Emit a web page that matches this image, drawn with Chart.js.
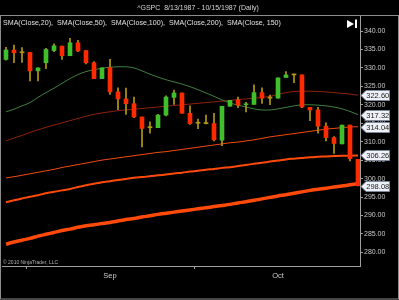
<!DOCTYPE html>
<html>
<head>
<meta charset="utf-8">
<script src="https://cdn.jsdelivr.net/npm/chart.js@4.4.1/dist/chart.umd.min.js"></script>
<style>
html,body{margin:0;padding:0;background:#000;}
canvas{display:block;}
</style>
</head>
<body>
<canvas id="c" width="399" height="300"></canvas>
<script>
const dates = ['8/13','8/14','8/17','8/18','8/19','8/20','8/21','8/24','8/25','8/26','8/27','8/28','8/31',
 '9/1','9/2','9/3','9/4','9/8','9/9','9/10','9/11','9/14','9/15','9/16','9/17','9/18','9/21','9/22','9/23','9/24','9/25','9/28','9/29','9/30',
 '10/1','10/2','10/5','10/6','10/7','10/8','10/9','10/12','10/13','10/14','10/15'];

const openV  = [332.3,334.85,334.1,334.2,329.2,331.4,334.7,335.9,333.3,336.8,334.7,331.4,327.1,330.1,323.5,321.6,320.3,316.7,313.8,313.8,317.2,322.0,323.2,317.7,315.0,314.9,314.9,310.4,319.6,321.3,320.0,320.1,323.3,321.8,321.8,327.4,328.1,328.1,319.3,318.6,314.2,311.1,309.4,314.5,305.2];
const highV  = [335.6,336.2,335.5,334.2,330.0,335.3,336.5,335.9,338.0,337.5,334.7,331.7,330.0,332.3,324.6,324.5,322.1,316.7,315.4,317.4,322.4,324.0,323.2,319.7,316.1,317.2,317.7,319.6,321.2,322.1,320.7,325.4,324.6,322.6,327.3,329.0,328.3,328.1,319.3,319.3,315.1,311.4,314.5,314.5,305.2];
const lowV   = [332.1,331.4,331.5,326.5,326.5,329.8,334.4,332.3,333.3,334.4,331.1,327.1,327.1,322.8,318.7,317.4,316.5,308.6,312.3,313.8,317.0,320.1,317.7,314.7,313.5,314.8,310.2,308.9,319.6,319.2,318.1,320.1,320.4,320.0,321.8,327.4,326.0,319.2,315.7,312.3,310.2,306.8,309.4,304.8,298.0];
const closeV = [334.85,334.1,334.1,329.2,330.0,335.0,336.0,333.3,336.8,334.6,331.4,327.1,330.0,323.5,321.6,320.3,316.7,313.6,313.8,317.2,322.1,323.2,317.7,314.9,315.0,314.9,310.5,319.6,321.2,319.9,320.2,323.3,321.8,321.8,327.3,328.1,328.1,319.4,318.6,314.2,311.1,309.5,314.5,305.4,298.08];

const sma20  = [318.1,318.8,319.7,320.6,322.0,323.3,324.5,325.8,327.1,328.2,329.0,329.5,329.9,330.2,330.3,330.3,330.0,329.2,328.3,327.5,326.8,326.2,325.6,324.9,324.1,323.2,322.3,321.3,320.5,319.9,319.4,318.9,318.6,318.6,318.9,319.3,319.7,320.0,320.0,319.9,319.7,319.4,318.9,318.2,317.32];
const sma50  = [310.2,311.0,311.7,312.5,313.2,313.9,314.5,315.1,315.7,316.3,316.9,317.4,317.8,318.1,318.4,318.6,318.8,319.0,319.2,319.4,319.6,319.8,320.0,320.2,320.4,320.6,320.8,321.0,321.2,321.4,321.6,321.8,322.0,322.3,322.8,323.3,323.6,323.7,323.7,323.6,323.5,323.3,323.1,322.9,322.60];
const sma100 = [300.2,300.5,300.9,301.3,301.7,302.1,302.5,303.0,303.4,303.8,304.2,304.6,305.0,305.3,305.6,305.9,306.2,306.5,306.8,307.1,307.3,307.6,307.9,308.2,308.5,308.8,309.1,309.4,309.7,309.9,310.2,310.5,310.9,311.3,311.6,311.9,312.2,312.5,312.8,313.1,313.4,313.6,313.8,314.0,314.04];
const sma150 = [293.6,294.1,294.6,295.1,295.5,296.0,296.4,296.8,297.2,297.7,298.2,298.6,299.0,299.3,299.6,299.9,300.2,300.4,300.6,300.9,301.1,301.4,301.6,301.9,302.1,302.4,302.6,302.9,303.1,303.4,303.7,304.0,304.3,304.6,304.9,305.2,305.4,305.6,305.8,305.9,306.0,306.1,306.2,306.2,306.26];
const sma200 = [282.2,282.8,283.3,283.8,284.4,284.9,285.4,285.9,286.3,286.8,287.2,287.5,287.8,288.1,288.5,288.9,289.2,289.6,289.9,290.3,290.6,290.9,291.2,291.5,291.8,292.1,292.4,292.7,293.0,293.4,293.7,294.1,294.5,294.9,295.3,295.6,296.0,296.4,296.8,297.1,297.4,297.7,298.0,298.3,298.6];

const xTickIndex = [13, 34];
const xTickLabels = ['Sep', 'Oct'];
const yTicks = [280,285,290,295,300,305,310,315,320,325,330,335,340];

const titleText = '^GSPC  8/13/1987 - 10/15/1987 (Daily)';
const legendText = 'SMA(Close,20),  SMA(Close,50),  SMA(Close,100),  SMA(Close,200),  SMA(Close, 150)';
const copyText = '\u00A9 2010 NinjaTrader, LLC';

const UP = '#40bf2c', DOWN = '#ff2a00', WICK = '#b39a12';
const candleColor = dates.map((d,i)=> closeV[i] > openV[i] ? UP : (closeV[i] < openV[i] ? DOWN : WICK));

const pts = arr => arr.map((v,i)=>({x:i, y:v}));

const framePlugin = {
  id:'frame',
  beforeDraw(chart){
    const c = chart.ctx;
    c.save(); c.fillStyle = '#000'; c.fillRect(0,0,chart.width,chart.height); c.restore();
  },
  afterDraw(chart){
    const c = chart.ctx, y = chart.scales.y;
    c.save();
    c.strokeStyle = '#8c8c8c'; c.lineWidth = 1;
    c.strokeRect(0.5, 15.5, 398, 283.5);
    c.fillStyle = '#d8d8d8';
    c.font = '7px "Liberation Sans"';
    c.textAlign = 'center'; c.textBaseline = 'middle';
    c.fillText(titleText, 198, 8);
    c.textAlign = 'left';
    c.font = '7.1px "Liberation Sans"';
    c.fillStyle = '#e0e0e0';
    c.fillText(legendText, 3, 23.5);
    c.fillStyle = '#ffffff';
    c.beginPath(); c.moveTo(347,20); c.lineTo(354,24); c.lineTo(347,28); c.closePath(); c.fill();
    c.fillRect(355,19.5,2,8.5);
    c.font = '5px "Liberation Sans"';
    c.fillStyle = '#b0b0b0';
    c.fillText(copyText, 3, 262.5);
    const tags = [sma50[sma50.length-1], sma20[sma20.length-1], sma100[sma100.length-1], sma150[sma150.length-1], closeV[closeV.length-1]];
    c.font = '7.5px "Liberation Sans"';
    tags.forEach(v=>{
      const py = Math.round(y.getPixelForValue(v)) + 0.5;
      const tip = 361, l = 366, r = 389.5, h = 5;
      c.beginPath(); c.moveTo(tip,py); c.lineTo(l,py-h); c.lineTo(r,py-h); c.lineTo(r,py+h); c.lineTo(l,py+h); c.closePath();
      c.fillStyle = '#eef2f8'; c.fill();
      c.strokeStyle = '#7d8898'; c.lineWidth = 1; c.stroke();
      c.fillStyle = '#1a1a1a'; c.textAlign = 'center'; c.textBaseline = 'middle';
      c.fillText(v.toFixed(2), (l+r)/2, py+0.5);
    });
    c.restore();
  }
};

new Chart(document.getElementById('c'), {
  data: {
    datasets: [
      { type:'bar', label:'body', data: dates.map((d,i)=>({x:i, y:[openV[i], closeV[i]]})), backgroundColor: candleColor, borderWidth:0, barThickness:4, minBarLength:1, grouped:false, order:1 },
      { type:'bar', label:'wick', data: dates.map((d,i)=>({x:i, y:[lowV[i], highV[i]]})), backgroundColor: WICK, borderWidth:0, barThickness:1, grouped:false, order:2 },
      { type:'line', label:'SMA(Close,20)', data: pts(sma20), borderColor:'#3f7f3f', borderWidth:1, pointRadius:0, tension:0.3, order:3 },
      { type:'line', label:'SMA(Close,50)', data: pts(sma50), borderColor:'#8e2208', borderWidth:1, pointRadius:0, tension:0.3, order:4 },
      { type:'line', label:'SMA(Close,100)', data: pts(sma100), borderColor:'#f04a10', borderWidth:1, pointRadius:0, tension:0.3, order:5 },
      { type:'line', label:'SMA(Close,150)', data: pts(sma150), borderColor:'#ff4a0a', borderWidth:2, pointRadius:0, tension:0.3, order:6 },
      { type:'line', label:'SMA(Close,200)', data: pts(sma200), borderColor:'#ff4a0a', borderWidth:3.5, pointRadius:0, tension:0.3, order:7 }
    ]
  },
  options: {
    responsive:false, animation:false, events:[],
    layout:{ padding:{ left:2, top:15, right:0, bottom:0 } },
    plugins:{ legend:{display:false}, tooltip:{enabled:false}, title:{display:false} },
    scales:{
      x:{ type:'linear', min:-0.5, max:44.25, offset:false,
          afterBuildTicks: s => { s.ticks = xTickIndex.map(v=>({value:v})); },
          afterFit: s => { s.height = 34; },
          ticks:{ callback: v => { const k = xTickIndex.indexOf(v); return k >= 0 ? xTickLabels[k] : ''; }, color:'#c8c8c8', font:{family:'Liberation Sans', size:7.5}, padding:2, maxRotation:0, autoSkip:false },
          grid:{ display:true, drawOnChartArea:false, drawTicks:true, tickLength:3, color:'#a0a0a0' },
          border:{ display:true, color:'#a0a0a0' } },
      y:{ position:'right', min:276.3, max:344.34,
          afterBuildTicks: s => { s.ticks = yTicks.map(v=>({value:v})); },
          afterFit: s => { s.width = 39; },
          ticks:{ callback: v => Number(v).toFixed(2), color:'#c8c8c8', font:{family:'Liberation Sans', size:7}, padding:1 },
          grid:{ display:true, drawOnChartArea:false, drawTicks:true, tickLength:3, color:'#a0a0a0' },
          border:{ display:true, color:'#a0a0a0' } }
    }
  },
  plugins:[framePlugin]
});
</script>
</body>
</html>
